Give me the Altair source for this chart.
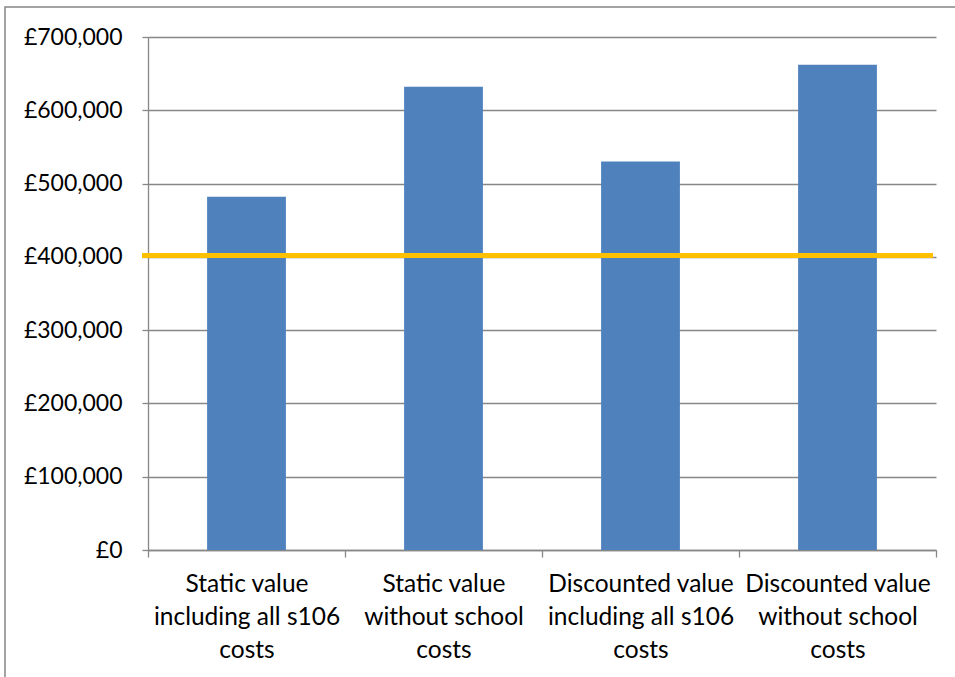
import altair as alt
import pandas as pd

categories = [
    "Static value\nincluding all s106\ncosts",
    "Static value\nwithout school\ncosts",
    "Discounted value\nincluding all s106\ncosts",
    "Discounted value\nwithout school\ncosts",
]
values = [482000, 632000, 530000, 662000]
threshold = [402000]
y_ticks = [0, 100000, 200000, 300000, 400000, 500000, 600000, 700000]

GRAY = "#878787"
FONT = "Lato"

bars_df = pd.DataFrame({"category": categories, "value": values})
line_df = pd.DataFrame({"threshold": threshold})
frame_df = pd.DataFrame({"f": [0]})

frame = alt.Chart(frame_df).mark_rect(
    fillOpacity=0, stroke=GRAY, strokeWidth=1.5
).encode(
    x=alt.value(-143), x2=alt.value(900), y=alt.value(-30), y2=alt.value(700)
)

bars = alt.Chart(bars_df).mark_bar(
    color="#4F81BD", width=alt.RelativeBandSize(0.4)
).encode(
    x=alt.X(
        "category:N",
        sort=categories,
        scale=alt.Scale(paddingInner=0, paddingOuter=0),
        axis=alt.Axis(
            title=None,
            labelAngle=0,
            labelExpr="split(datum.label, '\\n')",
            labelLineHeight=33,
            labelFontSize=24.5,
            labelFont=FONT,
            labelColor="black",
            labelLimit=400,
            labelPadding=15,
            tickBand="extent",
            tickSize=7,
            tickColor=GRAY,
            tickWidth=1.3,
            domainColor=GRAY,
            domainWidth=1.3,
            grid=False,
        ),
    ),
    y=alt.Y(
        "value:Q",
        scale=alt.Scale(domain=[0, 700000], nice=False),
        axis=alt.Axis(
            title=None,
            values=y_ticks,
            labelExpr="'£' + format(datum.value, ',')",
            labelFontSize=23,
            labelFont=FONT,
            labelColor="black",
            labelPadding=20,
            tickSize=6,
            tickColor=GRAY,
            tickWidth=1.3,
            domainColor=GRAY,
            domainWidth=1.3,
            grid=True,
            gridColor=GRAY,
            gridWidth=1.3,
        ),
    ),
)

rule = alt.Chart(line_df).mark_rule(color="#FFC000", strokeWidth=5).encode(
    y="threshold:Q", x=alt.value(-6), x2=alt.value(785)
)

chart = alt.layer(frame, bars, rule).properties(
    width=788,
    height=513,
    autosize=alt.AutoSizeParams(type="none"),
    padding={"left": 148, "top": 37, "right": 19, "bottom": 127},
    background="white",
).configure_view(strokeWidth=0)

chart.save("out.html", embed_options={"renderer": "svg", "actions": False})
